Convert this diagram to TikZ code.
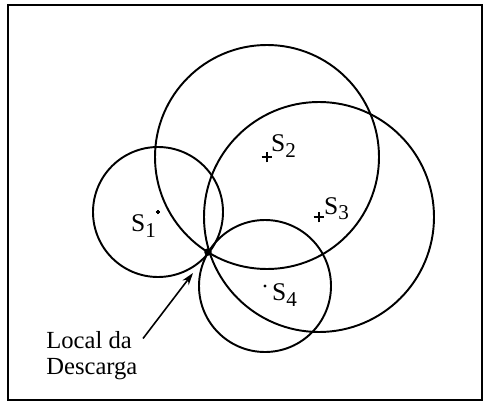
\documentclass[tikz,border=0pt]{standalone}
\usepackage{fontspec}
\setmainfont{Liberation Serif}
\usetikzlibrary{arrows.meta, positioning}

\begin{document}
\begin{tikzpicture}[
  x=0.02cm, y=0.02cm,
  every node/.style={font=\rmfamily\fontsize{14}{14.8}\selectfont},
  sensor/.style={font=\rmfamily\fontsize{14.5}{15}\selectfont},
  ring/.style={draw, line width=1.1pt},
  cross/.style={line width=0.8pt},
  arr/.style={-{Stealth[length=7pt, width=4.5pt]}, line width=0.9pt}
]
  \useasboundingbox (0,0) rectangle (483,403);
  \draw[line width=1.3pt] (8,3) rectangle (482,398);

  % sensor positions and strike point
  \coordinate (s1) at (158,191);
  \coordinate (s2) at (267,246);
  \coordinate (s3) at (319,186);
  \coordinate (s4) at (265,117);
  \coordinate (hit) at (208,151);
  \coordinate (tip) at (193,130);

  \draw[ring] (s1) circle[radius=65];
  \draw[ring] (s2) circle[radius=112];
  \draw[ring] (s3) circle[radius=115];
  \draw[ring] (s4) circle[radius=66];

  % centre marks
  \draw[cross] ([xshift=-3pt]s2) -- ([xshift=3pt]s2);
  \draw[cross] ([yshift=-3pt]s2) -- ([yshift=3pt]s2);
  \draw[cross] ([xshift=-3pt]s3) -- ([xshift=3pt]s3);
  \draw[cross] ([yshift=-3pt]s3) -- ([yshift=3pt]s3);
  \draw[cross] ([xshift=-1.4pt]s1) -- ([xshift=1.4pt]s1);
  \draw[cross] ([yshift=-1.4pt]s1) -- ([yshift=1.4pt]s1);
  \fill (s4) circle[radius=1.7];
  \fill (hit) circle[radius=3.8];

  \node[sensor] (n1) at (144,177) {S\textsubscript{\large 1}};
  \node[sensor] (n2) at (284,257) {S\textsubscript{\large 2}};
  \node[sensor] (n3) at (337,194) {S\textsubscript{\large 3}};
  \node[sensor] (n4) at (285,108) {S\textsubscript{\large 4}};

  \node[align=left, anchor=west, inner sep=0pt] (desc) at (46,47) {Local da\\Descarga};
  \draw[arr] ([shift={(3pt,-4pt)}]desc.north east) -- (tip);

\end{tikzpicture}
\end{document}
